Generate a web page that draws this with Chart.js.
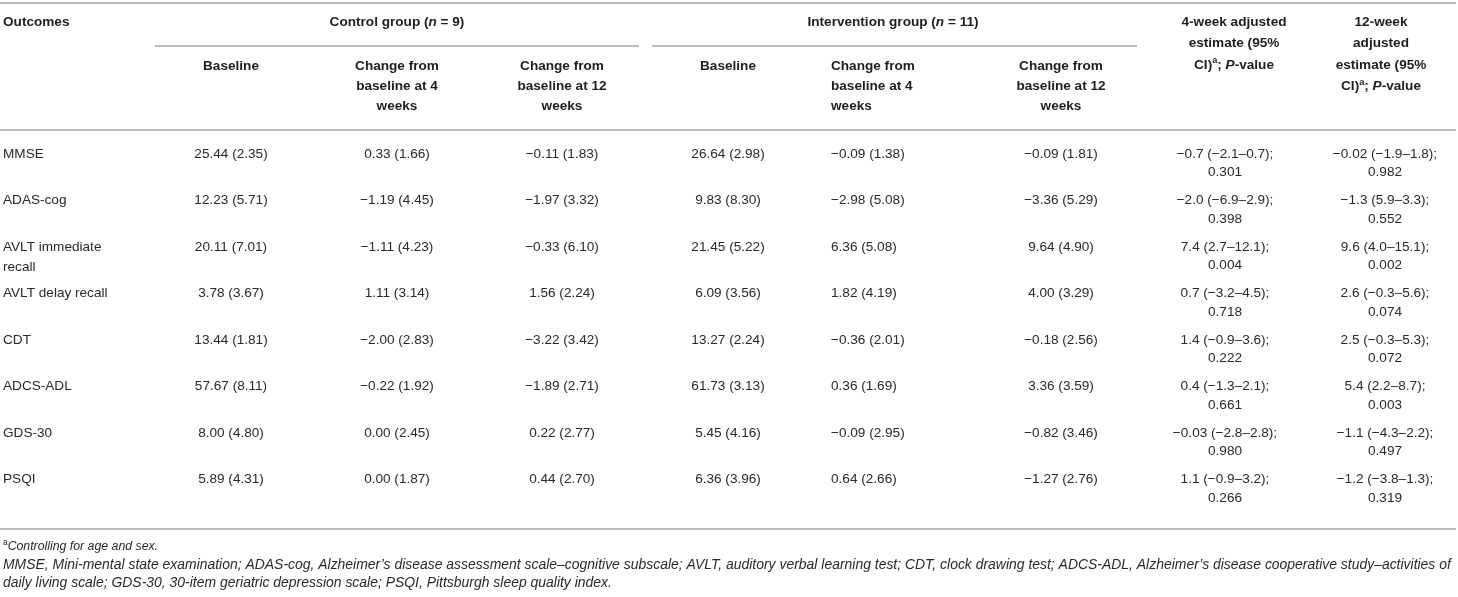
<!DOCTYPE html>
<html><head><meta charset="utf-8">
<script src="https://cdn.jsdelivr.net/npm/chart.js@4.4.1/dist/chart.umd.min.js"></script>
<style>html,body{margin:0;padding:0;background:#fff;overflow:hidden}canvas{display:block}</style>
</head><body>
<canvas id="c" width="1458" height="597"></canvas>
<script>
// ---------- DATA ----------
const outcomes = [["MMSE"], ["ADAS-cog"], ["AVLT immediate", "recall"], ["AVLT delay recall"], ["CDT"], ["ADCS-ADL"], ["GDS-30"], ["PSQI"]];

const controlBaselineMean = [25.44, 12.23, 20.11, 3.78, 13.44, 57.67, 8.00, 5.89];
const controlBaselineSD   = [2.35, 5.71, 7.01, 3.67, 1.81, 8.11, 4.80, 4.31];
const control4wMean = [0.33, -1.19, -1.11, 1.11, -2.00, -0.22, 0.00, 0.00];
const control4wSD   = [1.66, 4.45, 4.23, 3.14, 2.83, 1.92, 2.45, 1.87];
const control12wMean = [-0.11, -1.97, -0.33, 1.56, -3.22, -1.89, 0.22, 0.44];
const control12wSD   = [1.83, 3.32, 6.10, 2.24, 3.42, 2.71, 2.77, 2.70];

const interventionBaselineMean = [26.64, 9.83, 21.45, 6.09, 13.27, 61.73, 5.45, 6.36];
const interventionBaselineSD   = [2.98, 8.30, 5.22, 3.56, 2.24, 3.13, 4.16, 3.96];
const intervention4wMean = [-0.09, -2.98, 6.36, 1.82, -0.36, 0.36, -0.09, 0.64];
const intervention4wSD   = [1.38, 5.08, 5.08, 4.19, 2.01, 1.69, 2.95, 2.66];
const intervention12wMean = [-0.09, -3.36, 9.64, 4.00, -0.18, 3.36, -0.82, -1.27];
const intervention12wSD   = [1.81, 5.29, 4.90, 3.29, 2.56, 3.59, 3.46, 2.76];

const est4w   = [-0.7, -2.0, 7.4, 0.7, 1.4, 0.4, -0.03, 1.1];
const est4wLo = [-2.1, -6.9, 2.7, -3.2, -0.9, -1.3, -2.8, -0.9];
const est4wHi = [0.7, 2.9, 12.1, 4.5, 3.6, 2.1, 2.8, 3.2];
const est4wP  = [0.301, 0.398, 0.004, 0.718, 0.222, 0.661, 0.980, 0.266];

const est12w   = [-0.02, -1.3, 9.6, 2.6, 2.5, 5.4, -1.1, -1.2];
const est12wLo = [-1.9, 5.9, 4.0, -0.3, -0.3, 2.2, -4.3, -3.8];
const est12wHi = [1.8, 3.3, 15.1, 5.6, 5.3, 8.7, 2.2, 1.3];
const est12wP  = [0.982, 0.552, 0.002, 0.074, 0.072, 0.003, 0.497, 0.319];

const subHeaderBaseline = ["Baseline"];
const subHeader4w = ["Change from", "baseline at 4", "weeks"];
const subHeader12w = ["Change from", "baseline at 12", "weeks"];

const footnoteA = "Controlling for age and sex.";
const footnoteAbbrev = [
  "MMSE, Mini-mental state examination; ADAS-cog, Alzheimer\u2019s disease assessment scale\u2013cognitive subscale; AVLT, auditory verbal learning test; CDT, clock drawing test; ADCS-ADL, Alzheimer\u2019s disease cooperative study\u2013activities of",
  "daily living scale; GDS-30, 30-item geriatric depression scale; PSQI, Pittsburgh sleep quality index."
];

// ---------- LAYOUT ----------
const FONT = '"Liberation Sans", Arial, Helvetica, sans-serif';
const FS = 13.6;
const TEXT = '#2a2a2a';
const HEAD = '#1e1e1e';
const RULE = '#bdbdbd';
const L = {
  outcomesX: 3,
  cols: [
    {x: 231, align: 'center'},   // control baseline
    {x: 397, align: 'center'},   // control 4w
    {x: 562, align: 'center'},   // control 12w
    {x: 728, align: 'center'},   // int baseline
    {x: 831, align: 'left'},     // int 4w
    {x: 1061, align: 'center'},  // int 12w
  ],
  est4x: 1225, est12x: 1385,
  est4hx: 1234, est12hx: 1381,
  controlGroupX: 397, interventionGroupX: 893,
  head1Y: 22, head2Y: 66, headLH: 21.5,
  row0Y: 154, rowStep: 46.5, bodyLH: 18.3,
  topRule: 3, groupRule: 46, headRule: 130, bottomRule: 529,
  ruleL: 0, ruleR: 1456,
  ctrlRule: [155, 639], intRule: [652, 1137],
  foot: [547, 565, 583]
};

// ---------- FORMAT ----------
const neg = v => (v < 0 ? '\u2212' : '');
const f2 = v => neg(v) + Math.abs(v).toFixed(2);
const f1 = v => neg(v) + Math.abs(v).toFixed(1);
const fe = v => neg(v) + Math.abs(v).toFixed(Math.abs(v) < 0.1 && v !== 0 ? 2 : 1);
const ms = (m, s) => f2(m) + ' (' + s.toFixed(2) + ')';

const meanSdCols = [
  [controlBaselineMean, controlBaselineSD], [control4wMean, control4wSD], [control12wMean, control12wSD],
  [interventionBaselineMean, interventionBaselineSD], [intervention4wMean, intervention4wSD], [intervention12wMean, intervention12wSD]
];

// anchor points of every body cell (drawn through the chart scales)
const cellPoints = [];
outcomes.forEach((o, r) => {
  cellPoints.push({x: L.outcomesX, y: L.row0Y + r * L.rowStep, kind: 'out', r});
  meanSdCols.forEach((c, ci) => cellPoints.push({x: L.cols[ci].x, y: L.row0Y + r * L.rowStep, kind: 'ms', r, ci}));
  cellPoints.push({x: L.est4x, y: L.row0Y + r * L.rowStep, kind: 'e4', r});
  cellPoints.push({x: L.est12x, y: L.row0Y + r * L.rowStep, kind: 'e12', r});
});

function font(seg, size) {
  return (seg.i ? 'italic ' : '') + (seg.b ? 'bold ' : '') + (seg.sup ? size * 0.68 : size) + 'px ' + FONT;
}
function drawRich(ctx, segs, x, y, align, size) {
  let w = 0;
  segs.forEach(s => { ctx.font = font(s, size); s._w = ctx.measureText(s.t).width; w += s._w; });
  let cx = align === 'center' ? x - w / 2 : (align === 'right' ? x - w : x);
  ctx.textAlign = 'left';
  ctx.textBaseline = 'middle';
  segs.forEach(s => {
    ctx.font = font(s, size);
    ctx.fillText(s.t, cx, s.sup ? y - size * 0.33 : y);
    cx += s._w;
  });
}

const tablePlugin = {
  id: 'tableDraw',
  afterDatasetsDraw(chart) {
    const ctx = chart.ctx;
    const X = v => chart.scales.x.getPixelForValue(v);
    const Y = v => chart.scales.y.getPixelForValue(v);
    ctx.save();
    // rules
    ctx.strokeStyle = RULE;
    ctx.lineWidth = 2;
    const hline = (y, a, b) => { ctx.beginPath(); ctx.moveTo(X(a), Y(y)); ctx.lineTo(X(b), Y(y)); ctx.stroke(); };
    hline(L.topRule, L.ruleL, L.ruleR);
    hline(L.groupRule, L.ctrlRule[0], L.ctrlRule[1]);
    hline(L.groupRule, L.intRule[0], L.intRule[1]);
    hline(L.headRule, L.ruleL, L.ruleR);
    hline(L.bottomRule, L.ruleL, L.ruleR);

    ctx.fillStyle = HEAD;
    const B = t => ({t, b: true});
    const BI = t => ({t, b: true, i: true});
    const BS = t => ({t, b: true, sup: true});
    // header row 1
    drawRich(ctx, [B('Outcomes')], X(L.outcomesX), Y(L.head1Y), 'left', FS);
    drawRich(ctx, [B('Control group ('), BI('n'), B(' = 9)')], X(L.controlGroupX), Y(L.head1Y), 'center', FS);
    drawRich(ctx, [B('Intervention group ('), BI('n'), B(' = 11)')], X(L.interventionGroupX), Y(L.head1Y), 'center', FS);
    const ciLine = [B('CI)'), BS('a'), B('; '), BI('P'), B('-value')];
    const e4h = [[B('4-week adjusted')], [B('estimate (95%')], ciLine];
    const e12h = [[B('12-week')], [B('adjusted')], [B('estimate (95%')], ciLine];
    e4h.forEach((s, k) => drawRich(ctx, s, X(L.est4hx), Y(L.head1Y + k * L.headLH), 'center', FS));
    e12h.forEach((s, k) => drawRich(ctx, s, X(L.est12hx), Y(L.head1Y + k * L.headLH), 'center', FS));
    // header row 2
    const subs = [subHeaderBaseline, subHeader4w, subHeader12w, subHeaderBaseline, subHeader4w, subHeader12w];
    subs.forEach((lines, ci) => {
      lines.forEach((t, k) => drawRich(ctx, [B(t)], X(L.cols[ci].x), Y(L.head2Y + k * 20), L.cols[ci].align, FS));
    });

    // body cells from dataset points
    ctx.fillStyle = TEXT;
    const meta = chart.getDatasetMeta(0);
    meta.data.forEach((el, idx) => {
      const p = cellPoints[idx];
      const px = el.x, py = el.y;
      const lh = Y(L.bodyLH) - Y(0);
      const N = t => ({t});
      if (p.kind === 'out') {
        outcomes[p.r].forEach((t, k) => drawRich(ctx, [N(t)], px, py + k * (lh + 1.7), 'left', FS));
      } else if (p.kind === 'ms') {
        const c = meanSdCols[p.ci];
        drawRich(ctx, [N(ms(c[0][p.r], c[1][p.r]))], px, py, L.cols[p.ci].align, FS);
      } else if (p.kind === 'e4' || p.kind === 'e12') {
        const e = p.kind === 'e4' ? [est4w, est4wLo, est4wHi, est4wP] : [est12w, est12wLo, est12wHi, est12wP];
        const l1 = fe(e[0][p.r]) + ' (' + f1(e[1][p.r]) + '\u2013' + f1(e[2][p.r]) + ');';
        const l2 = e[3][p.r].toFixed(3);
        drawRich(ctx, [N(l1)], px, py, 'center', FS);
        drawRich(ctx, [N(l2)], px, py + lh, 'center', FS);
      }
    });

    // footnotes
    const FN = 12.3;
    drawRich(ctx, [{t: 'a', sup: true}, {t: footnoteA, i: true}], X(3), Y(L.foot[0]), 'left', FN);
    ctx.font = 'italic ' + FN + 'px ' + FONT;
    const w0 = ctx.measureText(footnoteAbbrev[0]).width;
    const fs2 = FN * (X(1452) - X(3)) / w0;
    footnoteAbbrev.forEach((t, k) => drawRich(ctx, [{t, i: true}], X(3), Y(L.foot[1 + k]), 'left', fs2));
    ctx.restore();
  }
};

new Chart(document.getElementById('c'), {
  type: 'scatter',
  data: { datasets: [{ data: cellPoints, pointRadius: 0, pointHoverRadius: 0, showLine: false }] },
  options: {
    responsive: false, animation: false, devicePixelRatio: 1,
    layout: { padding: 0 },
    events: [],
    plugins: { legend: { display: false }, tooltip: { enabled: false } },
    scales: {
      x: { type: 'linear', display: false, min: 0, max: 1458 },
      y: { type: 'linear', display: false, min: 0, max: 597, reverse: true }
    }
  },
  plugins: [tablePlugin]
});
</script>
</body></html>
